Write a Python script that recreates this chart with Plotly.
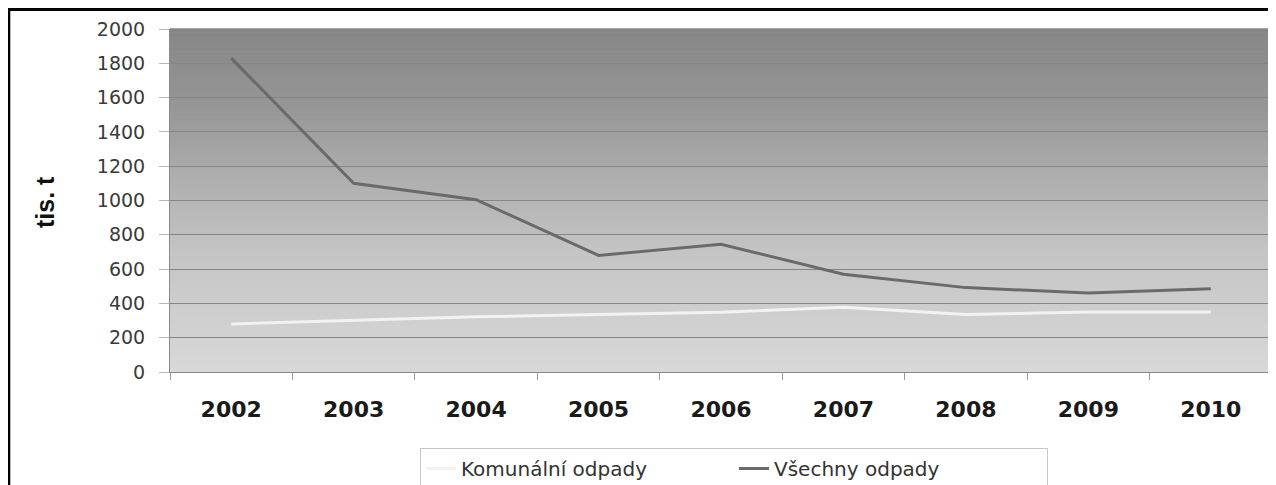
import plotly.graph_objects as go

years = ["2002", "2003", "2004", "2005", "2006", "2007", "2008", "2009", "2010"]
komunalni = [280, 300, 322, 335, 348, 378, 335, 350, 350]
vsechny = [1830, 1100, 1005, 680, 745, 570, 492, 460, 485]
y_ticks = [0, 200, 400, 600, 800, 1000, 1200, 1400, 1600, 1800, 2000]

# page offset of the figure (default body margin)
OFF = 8
W, H = 1276 - OFF, 485 - OFF
L, R, T, B = 170 - OFF, 4, 29 - OFF, 113
pw = W - L - R
ph = H - T - B

def px_x(page_x):
    return (page_x - OFF - L) / pw

def px_y(page_y):
    return (H - B - (page_y - OFF)) / ph

fig = go.Figure()
fig.add_trace(go.Scatter(x=years, y=komunalni, mode="lines", name="Komunální odpady",
                         line=dict(color="#f2f2f2", width=3)))
fig.add_trace(go.Scatter(x=years, y=vsechny, mode="lines", name="Všechny odpady",
                         line=dict(color="#6a6a6a", width=3)))

# gradient background bands (styling only)
stops = [(0.0, 134), (0.25, 152), (0.45, 176), (0.65, 196), (1.0, 216)]
def shade(t):
    for (t0, c0), (t1, c1) in zip(stops[:-1], stops[1:]):
        if t0 <= t <= t1:
            return c0 + (c1 - c0) * (t - t0) / (t1 - t0)
    return stops[-1][1]
N = 90
shapes = []
for i in range(N):
    t = (i + 0.5) / N
    g = int(round(shade(t)))
    shapes.append(dict(type="rect", xref="x domain", yref="y domain",
                       x0=0, x1=1, y0=1 - (i + 1) / N, y1=1 - i / N + 0.002,
                       fillcolor=f"rgb({g},{g},{g})", line=dict(width=0), layer="below"))

# outer black frame
shapes.append(dict(type="rect", xref="paper", yref="paper",
                   x0=px_x(OFF + 0.8), x1=px_x(1300),
                   y0=px_y(520), y1=px_y(OFF + 1.5),
                   line=dict(color="black", width=3), fillcolor="rgba(0,0,0,0)", layer="above"))

fig.update_layout(
    width=W, height=H,
    margin=dict(l=L, r=R, t=T, b=B, autoexpand=False),
    paper_bgcolor="white",
    plot_bgcolor="#c0c0c0",
    shapes=shapes,
    showlegend=True,
    legend=dict(orientation="h", x=px_x(420), xanchor="left",
                y=px_y(448), yanchor="top",
                bgcolor="white", bordercolor="#c8c8c8", borderwidth=1,
                entrywidth=268, entrywidthmode="pixels",
                font=dict(family="DejaVu Sans", size=20, color="#333333")),
    annotations=[dict(text="<b>tis. t</b>", xref="paper", yref="paper",
                      x=px_x(45), y=px_y(202), textangle=-90,
                      showarrow=False, xanchor="center", yanchor="middle",
                      font=dict(family="Liberation Sans", size=25, color="#111111"))],
)

fig.update_xaxes(type="category", range=[-0.5, 8.5], tickson="boundaries",
                 ticks="outside", ticklen=7, automargin=False,
                 tickcolor="#9a9a9a", showline=True, linecolor="#8a8a8a", linewidth=1,
                 showgrid=False, ticklabelstandoff=18,
                 tickfont=dict(family="DejaVu Sans", size=22, color="#1a1a1a", weight="bold"))
fig.update_yaxes(range=[0, 2000], tickvals=y_ticks, ticktext=[str(v) for v in y_ticks],
                 ticks="outside", ticklen=10, tickcolor="#b8b8b8", automargin=False,
                 ticklabelstandoff=10,
                 showline=True, linecolor="#8a8a8a", linewidth=1,
                 showgrid=True, gridcolor="#858585", gridwidth=1, zeroline=False,
                 tickfont=dict(family="DejaVu Sans", size=19, color="#3a3a3a"))

fig.write_html("out.html")
